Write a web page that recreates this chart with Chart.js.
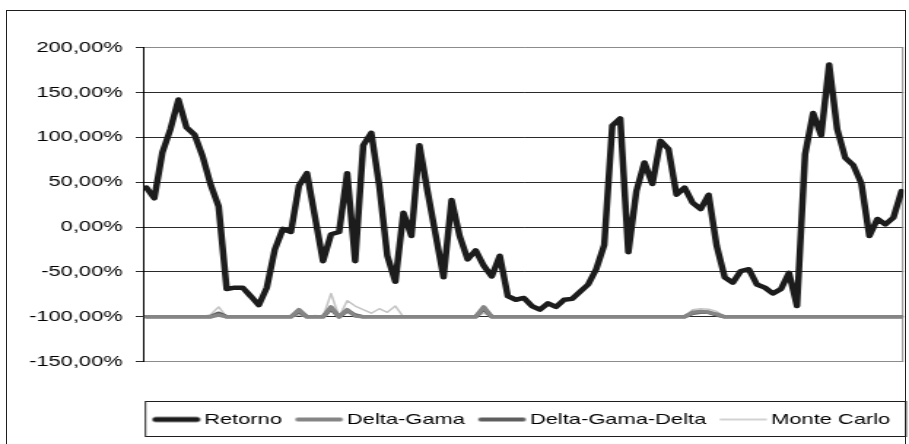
<!DOCTYPE html>
<html>
<head>
<meta charset="utf-8">
<script src="https://cdn.jsdelivr.net/npm/chart.js@4.4.1/dist/chart.umd.min.js"></script>
<style>
  html, body { margin: 0; padding: 0; background: #fff; overflow: hidden; }
  #frame { position: absolute; left: 6px; top: 10px; width: 900px; height: 460px;
           border: 1px solid #1e1e1e; box-sizing: border-box; }
  /* the chart is laid out at 623px wide and widened to 909px */
  #wrap { position: absolute; left: 0; top: 0; width: 623px; height: 444px;
          transform: scaleX(1.45907); transform-origin: 0 0; }
</style>
</head>
<body>
<div id="frame"></div>
<div id="wrap"><canvas id="c"></canvas></div>
<script>
// Period numbers (x positions of the observations)
const periods = [];
for (let i = 1; i <= 95; i++) periods.push(i);

// Realised return, %
const retorno = [
  44, 32, 83, 109, 142, 111, 103, 79, 47.5, 23,
  -69, -67.5, -67.5, -77, -87, -67.5, -25, -2, -5.5, 46,
  60, 11, -38, -8, -5.5, 60, -38, 91, 105, 46,
  -32, -61, 16, -10, 91, 40, -8, -56, 30, -10,
  -36, -26, -43, -55, -32, -77, -81, -79, -88, -92,
  -85, -89, -81, -80, -72, -64, -47, -20, 113, 121,
  -28, 40, 72, 48, 96, 87, 36, 44, 27, 20,
  36, -21, -56, -62, -49, -47, -64, -67.5, -74, -69,
  -51, -88, 81, 127, 102, 181, 109, 77, 69, 49,
  -10, 9, 3, 10.5, 40
];

// Delta-Gamma VaR, %
const deltaGama = [
  -100, -100, -100, -100, -100, -100, -100, -100, -100, -98,
  -100, -100, -100, -100, -100, -100, -100, -100, -100, -92,
  -100, -100, -100, -89, -100, -92, -99, -100, -100, -100,
  -100, -100, -100, -100, -100, -100, -100, -100, -100, -100,
  -100, -100, -89, -100, -100, -100, -100, -100, -100, -100,
  -100, -100, -100, -100, -100, -100, -100, -100, -100, -100,
  -100, -100, -100, -100, -100, -100, -100, -100, -95, -94,
  -95, -97, -100, -100, -100, -100, -100, -100, -100, -100,
  -100, -100, -100, -100, -100, -100, -100, -100, -100, -100,
  -100, -100, -100, -100, -100
];

// Delta-Gamma-Delta VaR, %
const deltaGamaDelta = [
  -100, -100, -100, -100, -100, -100, -100, -100, -100, -96,
  -100, -100, -100, -100, -100, -100, -100, -100, -100, -94,
  -100, -100, -100, -91, -100, -93, -98, -100, -100, -100,
  -100, -100, -100, -100, -100, -100, -100, -100, -100, -100,
  -100, -100, -91, -100, -100, -100, -100, -100, -100, -100,
  -100, -100, -100, -100, -100, -100, -100, -100, -100, -100,
  -100, -100, -100, -100, -100, -100, -100, -100, -96, -95,
  -95, -98, -100, -100, -100, -100, -100, -100, -100, -100,
  -100, -100, -100, -100, -100, -100, -100, -100, -100, -100,
  -100, -100, -100, -100, -100
];

// Monte Carlo VaR, %
const monteCarlo = [
  -100, -100, -100, -100, -100, -100, -100, -100, -97.5, -89,
  -100, -100, -100, -100, -100, -100, -100, -100, -100, -98,
  -100, -98.5, -100, -74, -100, -82, -88, -92, -96, -91,
  -95, -88, -100, -100, -100, -100, -100, -100, -100, -100,
  -100, -100, -96, -100, -100, -100, -100, -100, -100, -100,
  -100, -100, -100, -100, -100, -100, -100, -100, -100, -100,
  -100, -100, -100, -100, -100, -100, -100, -100, -92, -91,
  -91.5, -94, -100, -100, -100, -100, -100, -100, -100, -100,
  -100, -100, -100, -100, -100, -100, -100, -100, -100, -100,
  -100, -100, -100, -100, -100
];

const yTicks = [-150, -100, -50, 0, 50, 100, 150, 200];

const seriesNames = ['Retorno', 'Delta-Gama', 'Delta-Gama-Delta', 'Monte Carlo'];
const seriesColors = ['#1c1c1c', '#858585', '#5e5e5e', '#c4c4c4'];
const seriesWidths = [4.5, 3.5, 3.5, 1.5];
const swatchWidths = [5, 4, 4, 1.5];

const FONT = '"Liberation Sans", Arial, sans-serif';

// Legend swatch: a line drawn off-centre so it ends just before the label
function makeSwatch(color, lw) {
  const c = document.createElement('canvas');
  c.width = 44; c.height = 10;
  const g = c.getContext('2d');
  g.strokeStyle = color;
  g.lineWidth = lw;
  g.lineCap = 'round';
  g.beginPath();
  g.moveTo(8 + lw / 2, 5);
  g.lineTo(40.8 - lw / 2, 5);
  g.stroke();
  return c;
}
const swatches = seriesColors.map((c, i) => makeSwatch(c, swatchWidths[i]));

// Grey plot-area edge on the right, and the box around the legend
const frames = {
  id: 'frames',
  beforeDatasetsDraw(chart) {
    const { ctx, chartArea: a } = chart;
    ctx.save();
    ctx.strokeStyle = '#8c8c8c';
    ctx.lineWidth = 1;
    ctx.beginPath();
    ctx.moveTo(a.right - 0.5, a.top);
    ctx.lineTo(a.right - 0.5, a.bottom);
    ctx.stroke();
    ctx.restore();
  },
  afterDraw(chart) {
    const { ctx, chartArea: a } = chart;
    const lg = chart.legend;
    const cy = lg.top + 9 + 7.5;
    ctx.save();
    ctx.strokeStyle = '#1e1e1e';
    ctx.lineWidth = 1;
    ctx.strokeRect(a.left + 1.2, Math.round(cy - 18.5) + 0.5, a.right - a.left + 0.5, 35);
    ctx.restore();
  }
};

const datasets = [retorno, deltaGama, deltaGamaDelta, monteCarlo].map((values, i) => ({
  label: seriesNames[i],
  data: values,
  borderColor: seriesColors[i],
  backgroundColor: seriesColors[i],
  borderWidth: seriesWidths[i],
  pointRadius: 0,
  pointHoverRadius: 0,
  tension: 0,
  borderJoinStyle: 'round',
  borderCapStyle: 'round',
  fill: false
}));

new Chart(document.getElementById('c'), {
  type: 'line',
  data: { labels: periods, datasets },
  plugins: [frames],
  options: {
    responsive: true,
    maintainAspectRatio: false,
    animation: false,
    devicePixelRatio: 1,
    layout: { padding: { left: 0, right: 3.8, top: 47.5, bottom: 7 } },
    scales: {
      x: {
        type: 'linear',
        min: 0.68,
        max: 95.25,
        ticks: { display: false },
        grid: { display: false },
        border: { display: false },
        afterFit(scale) { scale.height = 41.3; }
      },
      y: {
        min: -150,
        max: 200,
        afterBuildTicks(scale) { scale.ticks = yTicks.map(v => ({ value: v })); },
        afterFit(scale) { scale.width = 98.5; },
        ticks: {
          color: '#000',
          padding: 8.9,
          font: { family: FONT, size: 15 },
          callback: v => v.toFixed(2).replace('.', ',') + '%'
        },
        grid: {
          color: c => (c.tick && (c.tick.value === 200 || c.tick.value === -150)) ? '#8c8c8c' : '#2a2a2a',
          tickColor: '#2a2a2a',
          tickLength: 5.5,
          lineWidth: 1
        },
        border: { display: true, color: '#000', width: 1 }
      }
    },
    plugins: {
      tooltip: { enabled: false },
      legend: {
        position: 'bottom',
        align: 'end',
        labels: {
          color: '#000',
          font: { family: FONT, size: 15 },
          padding: 9,
          usePointStyle: true,
          pointStyleWidth: 28,
          generateLabels(chart) {
            const items = Chart.defaults.plugins.legend.labels.generateLabels(chart);
            items.forEach(it => { it.pointStyle = swatches[it.datasetIndex]; });
            return items;
          }
        }
      }
    }
  }
});
</script>
</body>
</html>
